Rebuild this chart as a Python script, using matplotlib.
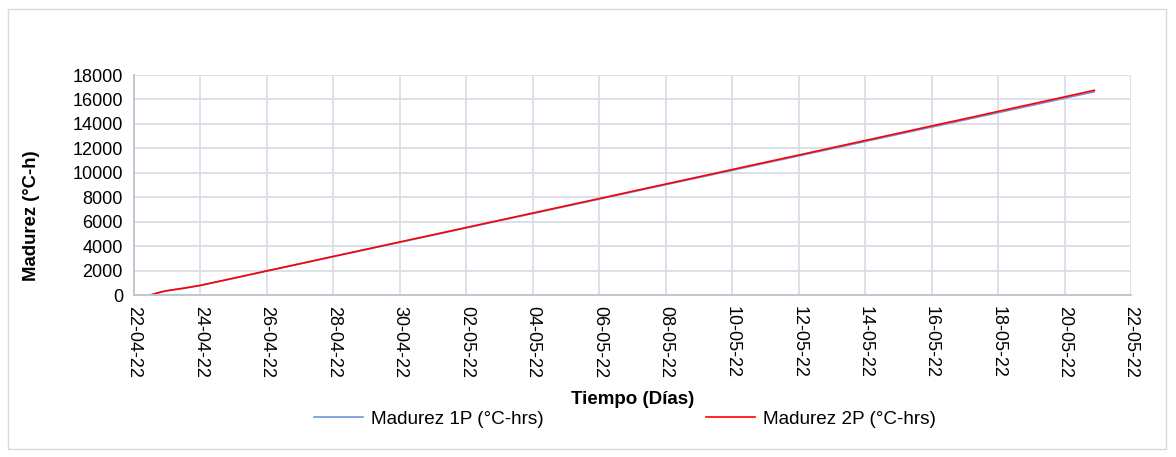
import matplotlib
matplotlib.use("Agg")
import matplotlib.pyplot as plt
import matplotlib.dates as mdates
import pandas as pd
from matplotlib.patches import Rectangle

plt.rcParams['font.family'] = ['Liberation Sans', 'DejaVu Sans']

# Datos
fechas = [
    "2022-04-22 12:00", "2022-04-22 18:00", "2022-04-22 23:00", "2022-04-23 12:00",
    "2022-04-24 00:00", "2022-04-25 00:00", "2022-04-26 00:00", "2022-04-27 00:00",
    "2022-04-28 00:00", "2022-04-29 00:00", "2022-04-30 00:00", "2022-05-01 00:00",
    "2022-05-02 00:00", "2022-05-03 00:00", "2022-05-04 00:00", "2022-05-05 00:00",
    "2022-05-06 00:00", "2022-05-07 00:00", "2022-05-08 00:00", "2022-05-09 00:00",
    "2022-05-10 00:00", "2022-05-11 00:00", "2022-05-12 00:00", "2022-05-13 00:00",
    "2022-05-14 00:00", "2022-05-15 00:00", "2022-05-16 00:00", "2022-05-17 00:00",
    "2022-05-18 00:00", "2022-05-19 00:00", "2022-05-20 00:00", "2022-05-20 21:30",
]
madurez_1p = [
    0, 195, 335, 550, 780, 1370, 1960, 2550, 3140, 3725, 4315, 4900, 5490,
    6080, 6665, 7255, 7845, 8435, 9025, 9610, 10200, 10790, 11380, 11970,
    12560, 13150, 13740, 14325, 14915, 15505, 16095, 16630,
]
madurez_2p = [
    0, 200, 340, 560, 790, 1380, 1975, 2565, 3160, 3750, 4340, 4930, 5525,
    6115, 6705, 7300, 7890, 8485, 9080, 9670, 10265, 10860, 11450, 12045,
    12640, 13235, 13830, 14420, 15020, 15615, 16210, 16750,
]
y_ticks = list(range(0, 18001, 2000))

x = pd.to_datetime(fechas, format="%Y-%m-%d %H:%M")

fig = plt.figure(figsize=(11.76, 4.57), dpi=100)
ax = fig.add_axes([134 / 1176, 1 - 295 / 457, (1131 - 134) / 1176, (295 - 75) / 457])

# Marco exterior del gráfico
fig.patches.append(Rectangle((8 / 1176, 1 - 449 / 457), 1158 / 1176, 440 / 457,
                             transform=fig.transFigure, fill=False,
                             edgecolor='#d9d9d9', linewidth=1))

l1, = ax.plot(x, madurez_1p, color='#6f95d8', linewidth=1.2, label='Madurez 1P (°C-hrs)')
l2, = ax.plot(x, madurez_2p, color='#ff0000', linewidth=1.2, label='Madurez 2P (°C-hrs)')

ax.set_xlim(pd.Timestamp('2022-04-22'), pd.Timestamp('2022-05-22'))
ax.set_ylim(0, 18000)
ax.set_xticks(pd.date_range('2022-04-22', '2022-05-22', freq='2D'))
ax.xaxis.set_major_formatter(mdates.DateFormatter('%d-%m-%y'))
ax.set_yticks(y_ticks)

ax.grid(True, color='#d9dde6', linewidth=1.3)
ax.set_axisbelow(True)
for s in ['top', 'right']:
    ax.spines[s].set_visible(False)
for s in ['left', 'bottom']:
    ax.spines[s].set_color('#bcc3cf')
    ax.spines[s].set_linewidth(1.3)

ax.tick_params(axis='both', length=0, labelsize=13, colors='black')
ax.tick_params(axis='x', labelrotation=-90, pad=8)
ax.tick_params(axis='y', pad=8)

fig.text(31 / 1176, 1 - 216 / 457, 'Madurez (°C-h)', rotation=90, ha='center', va='center',
         fontsize=13.3, fontweight='bold')
fig.text(633 / 1176, 1 - 400 / 457, 'Tiempo (Días)', ha='center', va='center',
         fontsize=13.5, fontweight='bold')

fig.legend(handles=[l1, l2], loc='center', bbox_to_anchor=(625 / 1176, 1 - 419 / 457),
           ncol=2, frameon=False, fontsize=13.6, handlelength=2.6, handletextpad=0.42,
           columnspacing=8.6)

fig.savefig('out.png', dpi=100)
